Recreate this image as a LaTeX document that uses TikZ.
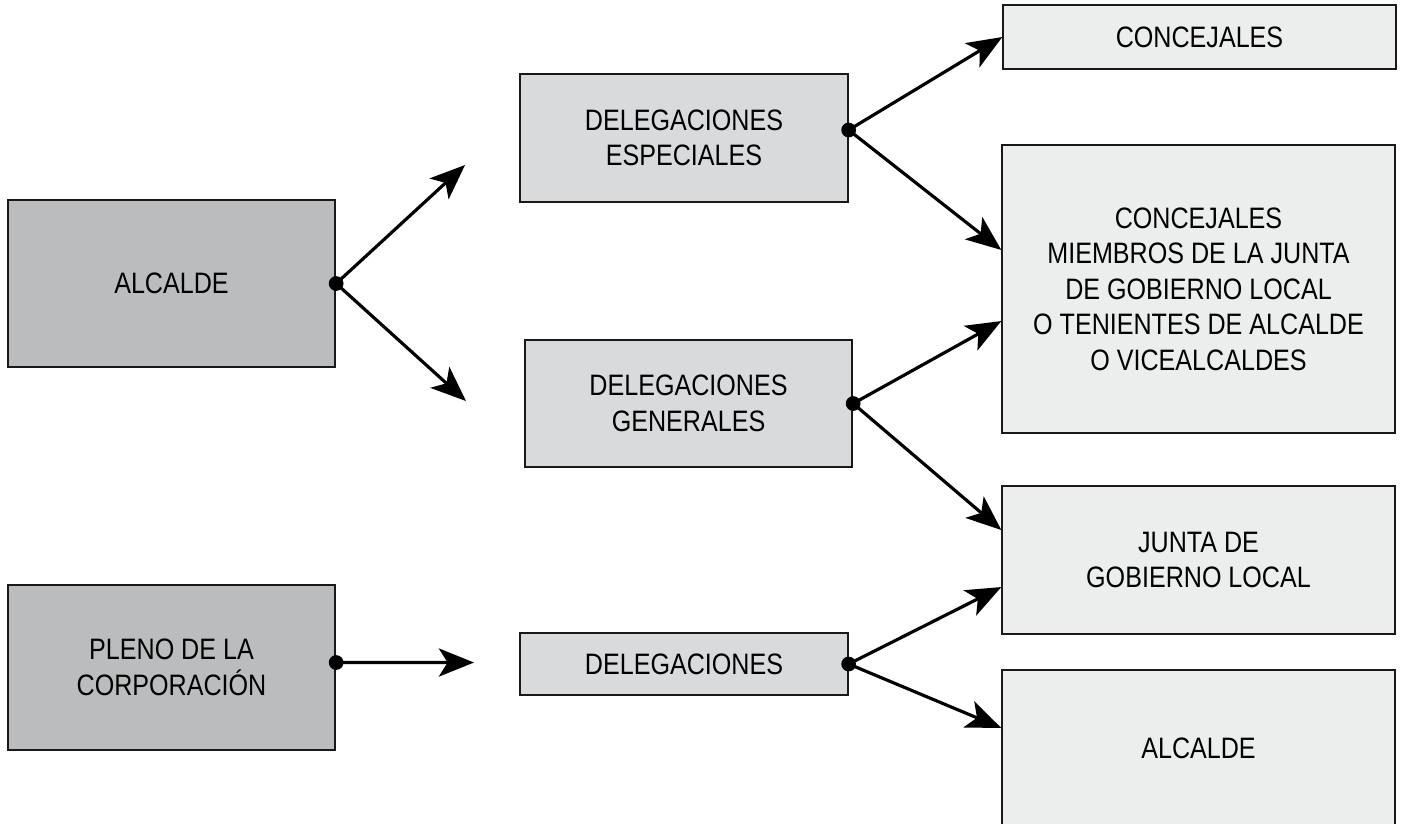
\documentclass[tikz,border=0pt]{standalone}
\usepackage{fontspec}
\setmainfont{Liberation Sans}[FakeStretch=0.85]
\definecolor{boxdark}{RGB}{187, 188, 190}
\definecolor{boxmid}{RGB}{217, 218, 220}
\definecolor{boxlight}{RGB}{236, 237, 237}
\usetikzlibrary{arrows.meta, positioning}

\begin{document}
\begin{tikzpicture}[
  x=0.01cm, y=-0.01cm,
  orgbox/.style={draw=black!90, line width=0.6pt, align=center, inner sep=2pt, font=\fontsize{8.4}{10.1}\selectfont},
  leftbox/.style={orgbox, fill=boxdark, minimum width=3.27cm},
  midbox/.style={orgbox, fill=boxmid, minimum width=3.27cm},
  rightbox/.style={orgbox, fill=boxlight, minimum width=3.92cm},
  flow/.style={line width=0.9pt, -{Stealth[length=10pt, width=8pt, inset=2.5pt]}},
  joint/.style={circle, fill=black, inner sep=0pt, minimum size=4.2pt}
]
  \useasboundingbox (0,0) rectangle (1401,823);

  % left column
  \node[leftbox, minimum height=1.67cm] (alc) at (171.5, 283.5) {ALCALDE};
  \node[leftbox, minimum height=1.65cm] (pleno) at (171.5, 667.5) {PLENO DE LA\\CORPORACIÓN};

  % middle column
  \node[midbox, minimum height=1.28cm] (desp) at (684, 138) {DELEGACIONES\\ESPECIALES};
  \node[midbox, minimum height=1.27cm] (dgen) at (688.5, 403.5) {DELEGACIONES\\GENERALES};
  \node[midbox, minimum height=0.62cm] (dele) at (684, 664) {DELEGACIONES};

  % right column
  \node[rightbox, minimum height=0.64cm] (con) at (1199.5, 37) {CONCEJALES};
  \node[rightbox, minimum height=2.88cm] (cmj) at (1198.5, 289) {CONCEJALES\\MIEMBROS DE LA JUNTA\\DE GOBIERNO LOCAL\\O TENIENTES DE ALCALDE\\O VICEALCALDES};
  \node[rightbox, minimum height=1.48cm] (jgl) at (1198.5, 560) {JUNTA DE\\GOBIERNO LOCAL};
  \node[rightbox, minimum height=1.56cm] (alc2) at (1198.5, 748) {ALCALDE};

  % free arrow ends
  \coordinate (alcup) at (465, 165);
  \coordinate (alcdown) at (466, 401);
  \coordinate (plenoend) at (474, 662.5);

  % connectors
  \draw[flow] (alc.east) -- (alcup);
  \draw[flow] (alc.east) -- (alcdown);
  \draw[flow] ([yshift=0.05cm]pleno.east) -- (plenoend);

  \draw[flow] ([yshift=0.08cm]desp.east) -- (con.west);
  \draw[flow] ([yshift=0.08cm]desp.east) -- ([yshift=0.39cm]cmj.west);
  \draw[flow] (dgen.east) -- ([yshift=-0.32cm]cmj.west);
  \draw[flow] (dgen.east) -- ([yshift=0.30cm]jgl.west);
  \draw[flow] (dele.east) -- ([yshift=-0.27cm]jgl.west);
  \draw[flow] (dele.east) -- ([yshift=0.20cm]alc2.west);

  % joints
  \node[joint] at (alc.east) {};
  \node[joint] at ([yshift=0.05cm]pleno.east) {};
  \node[joint] at ([yshift=0.08cm]desp.east) {};
  \node[joint] at (dgen.east) {};
  \node[joint] at (dele.east) {};
\end{tikzpicture}
\end{document}
